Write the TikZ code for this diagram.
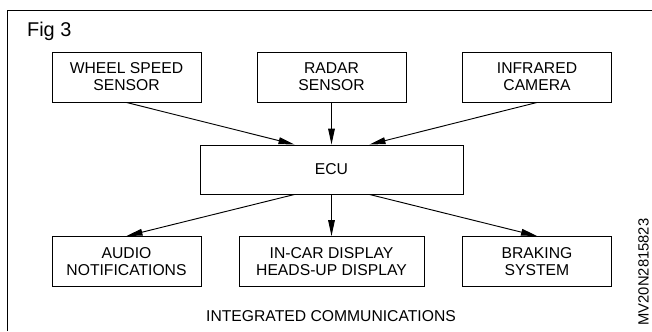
\documentclass[tikz,border=0pt]{standalone}
\usepackage{fontspec}
\setmainfont{Liberation Sans}
\usetikzlibrary{arrows.meta, positioning, calc}

\begin{document}
\begin{tikzpicture}[
  x=0.03cm, y=-0.03cm,
  blockbox/.style={rectangle, draw, line width=0.8pt, minimum width=4.47cm, minimum height=1.5cm,
    align=center, inner sep=0pt},
  flow/.style={line width=0.8pt, -{Triangle[length=4.8mm, width=2mm]}},
  font=\fontsize{13.4}{14.6}\selectfont
  ]
  \useasboundingbox (0,0) rectangle (652,331);
  % \draw[step=1cm, gray!10, very thin] (0,0) grid (652,331);

  % frame
  \draw[line width=0.8pt] (7,331) -- (7,10) -- (652,10);
  \node[anchor=south west, font=\fontsize{17}{19}\selectfont] (figlabel) at (23,45) {Fig 3};

  %% sensors
  \node[blockbox] (wheel) at (126.5,77) {WHEEL SPEED\\SENSOR};
  \node[blockbox] (radar) at (331.5,77) {RADAR\\SENSOR};
  \node[blockbox] (infra) at (537,77) {INFRARED\\CAMERA};

  %% controller
  \node[blockbox, minimum width=7.89cm, minimum height=1.47cm] (ecu) at (331.5,169.5) {ECU};
  \coordinate (ecuinl) at ($(ecu.north)+(-37,0)$);
  \coordinate (ecuinr) at ($(ecu.north)+(38,0)$);
  \coordinate (ecuoutl) at ($(ecu.south)+(-37,0)$);
  \coordinate (ecuoutr) at ($(ecu.south)+(38,0)$);

  %% outputs
  \node[blockbox] (audio) at (126.5,261.5) {AUDIO\\NOTIFICATIONS};
  \node[blockbox, minimum width=5.55cm] (display) at (331.5,261.5) {IN-CAR DISPLAY\\HEADS-UP DISPLAY};
  \node[blockbox] (brake) at (537,261.5) {BRAKING\\SYSTEM};

  % inputs to ECU
  \draw[flow] (wheel.south) -- (ecuinl);
  \draw[flow] (radar.south) -- (ecu.north);
  \draw[flow] (infra.south) -- (ecuinr);

  % ECU to outputs
  \draw[flow] (ecuoutl) -- (audio.north);
  \draw[flow] (ecu.south) -- (display.north);
  \draw[flow] (ecuoutr) -- (brake.north);

  \node (caption) at (331,316) {INTEGRATED COMMUNICATIONS};
  \node[rotate=90, font=\fontsize{12.6}{13}\selectfont, inner sep=0pt] (code) at (643.5,272) {MV20N2815823};
\end{tikzpicture}
\end{document}
